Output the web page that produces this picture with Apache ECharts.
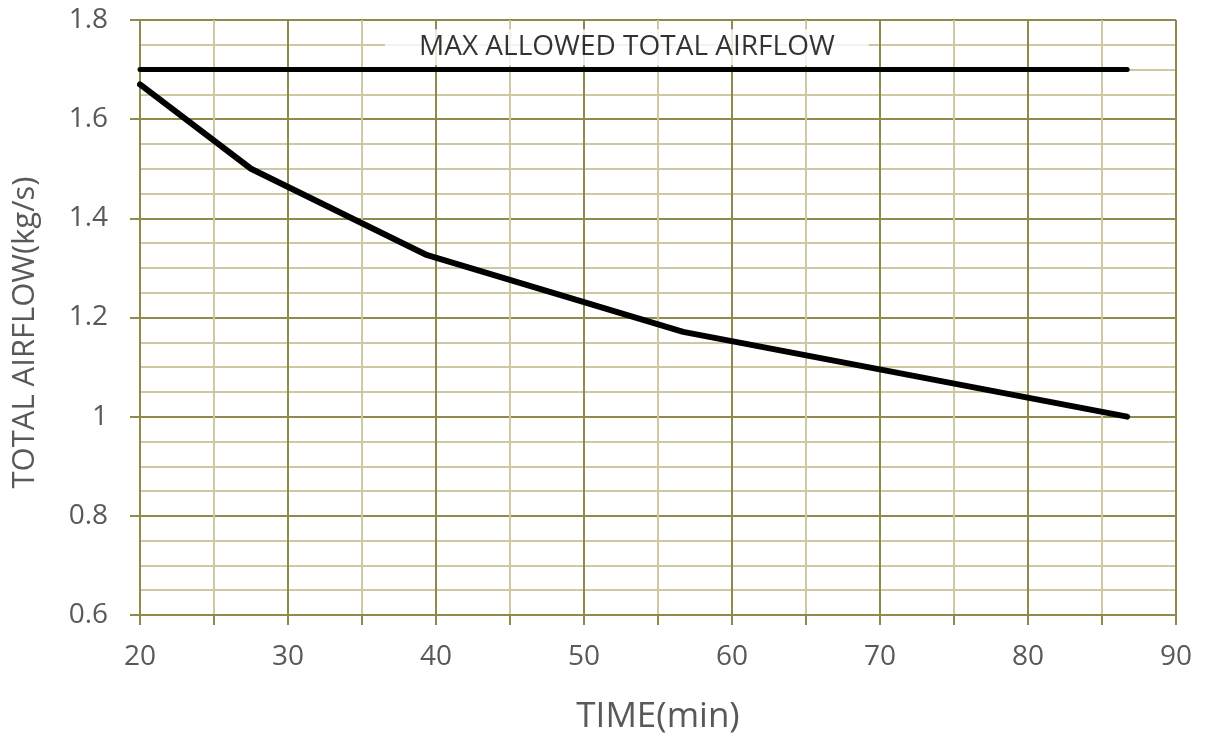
<!DOCTYPE html>
<html><head><meta charset="utf-8">
<script src="https://cdn.jsdelivr.net/npm/echarts@6/dist/echarts.min.js"></script>
<style>html,body{margin:0;padding:0;background:#fff}#c{width:1210px;height:740px}</style>
</head><body><div id="c"></div>
<script>
const timeMin = [20, 27.5, 39.3, 56.7, 86.7];
const airflow = [1.67, 1.5, 1.327, 1.171, 1.0];
const maxTime = [20, 86.7];
const maxAirflow = [1.7, 1.7];
const labelText = 'MAX ALLOWED TOTAL AIRFLOW';
const labelPos = [52.9, 1.745];
const xTitle = 'TIME(min)';
const yTitle = 'TOTAL AIRFLOW(kg/s)';

const MAJOR = '#8d8a4b', MINOR = '#cdc7a2', TXT = '#595959';
const FONT = 'Open Sans';
const chart = echarts.init(document.getElementById('c'), null, {renderer:'canvas'});
chart.setOption({
  animation:false,
  grid:{left:140, right:34, top:20, bottom:122},
  xAxis:{type:'value', min:20, max:90, interval:10,
    name:xTitle, nameLocation:'middle', nameGap:85,
    nameTextStyle:{color:TXT, fontSize:35, fontFamily:FONT},
    axisLine:{show:true, lineStyle:{color:MAJOR, width:2}},
    axisTick:{show:true, length:10, lineStyle:{color:MAJOR, width:2}},
    minorTick:{show:true, splitNumber:2, length:10, lineStyle:{color:MAJOR, width:2}},
    axisLabel:{color:TXT, fontSize:28, fontFamily:FONT, margin:28},
    splitLine:{show:true, lineStyle:{color:MAJOR, width:2}},
    minorSplitLine:{show:true, lineStyle:{color:MINOR, width:2}}
  },
  yAxis:{type:'value', min:0.6, max:1.8, interval:0.2,
    name:yTitle, nameLocation:'middle', nameGap:99,
    nameTextStyle:{color:TXT, fontSize:31, fontFamily:FONT, padding:[0,30,0,0]},
    axisLine:{show:true, lineStyle:{color:MAJOR, width:2}},
    axisTick:{show:true, length:10, lineStyle:{color:MAJOR, width:2}},
    minorTick:{show:false, splitNumber:4},
    axisLabel:{color:TXT, fontSize:28, fontFamily:FONT, margin:32,
      formatter:v=>String(Math.round(v*10)/10)},
    splitLine:{show:true, lineStyle:{color:MAJOR, width:2}},
    minorSplitLine:{show:true, lineStyle:{color:MINOR, width:2}}
  },
  series:[
    {type:'line', data:maxTime.map((t,i)=>[t,maxAirflow[i]]), symbol:'none',
     lineStyle:{color:'#000', width:5, cap:'round'}, z:3},
    {type:'line', data:timeMin.map((t,i)=>[t,airflow[i]]), symbol:'none',
     lineStyle:{color:'#000', width:6, cap:'round', join:'round'}, z:4},
    {type:'scatter', data:[labelPos], symbolSize:0, z:5,
     label:{show:true, position:'inside', formatter:labelText, color:'#000',
       fontSize:28, fontFamily:FONT, backgroundColor:'#fff', padding:[4,34,4,34]}}
  ]
});
</script></body></html>
